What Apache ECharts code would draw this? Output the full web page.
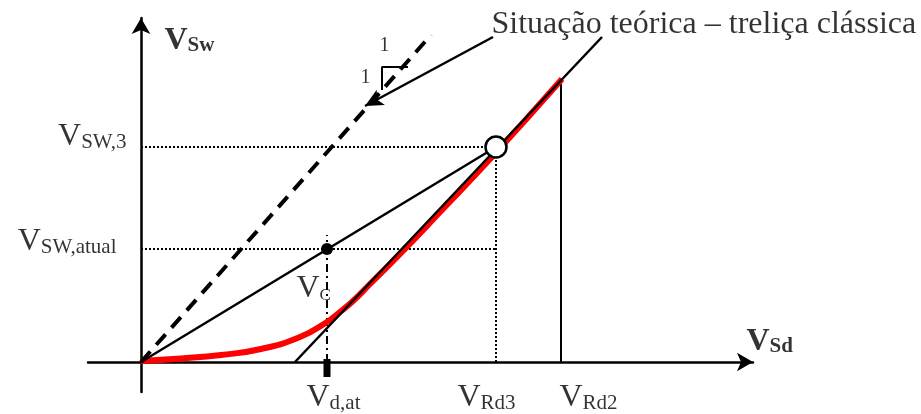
<!DOCTYPE html>
<html>
<head>
<meta charset="utf-8">
<script src="https://cdn.jsdelivr.net/npm/echarts@6/dist/echarts.min.js"></script>
<style>
html, body { margin: 0; padding: 0; background: #fff; }
#chart { width: 921px; height: 414px; }
</style>
</head>
<body>
<div id="chart"></div>
<script>
// Stirrup force V_Sw against design shear V_Sd (arbitrary units)
const xRange = [-5.3, 61.2];
const yRange = [-3.0, 34.4];

// marked abscissas: V_d,at, V_Rd3, V_Rd2
const xTickValues = [18.6, 35.5, 42.0];
const xTickLabels = [['V', 'd,at'], ['V', 'Rd3'], ['V', 'Rd2']];
// marked ordinates: V_Sw,atual, V_Sw,3
const yTickValues = [11.3, 21.5];
const yTickLabels = [['V', 'SW,atual'], ['V', 'SW,3']];

// actual behaviour (red curve)
const curveX = [0, 4.0, 8.0, 12.0, 15.9, 18.6, 19.9, 21.2, 22.9, 26.0, 30.0, 35.0, 42.1];
const curveY = [0.1, 0.35, 0.7, 1.3, 2.5, 4.0, 5.0, 6.1, 7.8, 10.9, 15.1, 20.4, 28.3];

// classical truss line and secant through the origin
const trussLine = [[15.4, 0], [46.1, 32.5]];
const secantEnd = [35.5, 21.5];
// 1:1 reference line and its slope triangle
const unitLine = [[0, 0], [29.0, 32.7]];
const slopeTriangle = [[24.1, 27.2], [24.1, 29.5], [26.7, 29.5]];
// callout from the caption to the 1:1 line
const callout = [[35.2, 32.5], [22.4, 25.6]];
const caption = 'Situação teórica – treliça clássica';
const vRd2Top = 28.3;
const vdAtGuideTop = 12.7;

const FONT = 'Liberation Serif';
const BLACK = '#000';

function seg(points, style, z) {
  return {
    type: 'line', data: points, showSymbol: false, symbol: 'none', silent: true,
    lineStyle: Object.assign({ color: BLACK, width: 2.5, opacity: 1 }, style),
    z: z || 3, animation: false
  };
}

function rich(bold) {
  const w = bold ? 'bold' : 'normal';
  return {
    v: { fontSize: 32, lineHeight: 32, fontFamily: FONT, fontWeight: w, color: BLACK, verticalAlign: 'bottom' },
    s: { fontSize: 21, lineHeight: 21, fontFamily: FONT, fontWeight: w, color: BLACK, verticalAlign: 'bottom' },
    c: { fontSize: 17, lineHeight: 17, fontFamily: FONT, color: BLACK, verticalAlign: 'bottom' },
    t: { fontSize: 32, lineHeight: 32, fontFamily: FONT, color: BLACK, verticalAlign: 'bottom' },
    n: { fontSize: 20, lineHeight: 20, fontFamily: FONT, color: BLACK, verticalAlign: 'bottom' }
  };
}

function note(value, text, align, offset, bold) {
  return {
    value: value,
    label: {
      show: true, position: [0, 0], align: align, verticalAlign: 'bottom',
      offset: offset, formatter: text, rich: rich(bold), color: BLACK
    }
  };
}

const notes = [
  note([xTickValues[0], 0], '{v|' + xTickLabels[0][0] + '}{s|' + xTickLabels[0][1] + '}', 'left', [-20, 52]),
  note([xTickValues[1], 0], '{v|' + xTickLabels[1][0] + '}{s|' + xTickLabels[1][1] + '}', 'left', [-38, 52]),
  note([xTickValues[2], 0], '{v|' + xTickLabels[2][0] + '}{s|' + xTickLabels[2][1] + '}', 'left', [-1, 52]),
  note([0, yTickValues[0]], '{v|' + yTickLabels[0][0] + '}{s|' + yTickLabels[0][1] + '}', 'right', [-24, 9]),
  note([0, yTickValues[1]], '{v|' + yTickLabels[1][0] + '}{s|' + yTickLabels[1][1] + '}', 'right', [-14, 6]),
  note([xTickValues[0], yTickValues[0]], '{v|V}{c|C}', 'left', [-30, 56]),
  note([0, yRange[1]], '{v|V}{s|Sw}', 'left', [24, 39], true),
  note([xRange[1], 0], '{v|V}{s|Sd}', 'left', [-6, -4], true),
  note(callout[0], '{t|' + caption + '}', 'left', [-1, 4]),
  note(slopeTriangle[1], '{n|1}', 'center', [3, -11]),
  note(slopeTriangle[1], '{n|1}', 'right', [-11, 21])
];

const chart = echarts.init(document.getElementById('chart'), null, { renderer: 'canvas' });

chart.setOption({
  animation: false,
  backgroundColor: '#fff',
  grid: { left: 88, right: 168, top: 18, bottom: 22, containLabel: false },
  xAxis: {
    type: 'value', min: xRange[0], max: xRange[1],
    axisLine: { onZero: true, symbol: ['none', 'arrow'], symbolSize: [14, 16],
      lineStyle: { color: BLACK, width: 2.5 } },
    axisTick: { show: false }, axisLabel: { show: false }, splitLine: { show: false }
  },
  yAxis: {
    type: 'value', min: yRange[0], max: yRange[1],
    axisLine: { onZero: true, symbol: ['none', 'arrow'], symbolSize: [14, 16],
      lineStyle: { color: BLACK, width: 2.5 } },
    axisTick: { show: false }, axisLabel: { show: false }, splitLine: { show: false }
  },
  series: [
    // guide lines
    seg([[0, yTickValues[1]], [xTickValues[1], yTickValues[1]]], { width: 2, type: [2, 2] }, 1),
    seg([[xTickValues[1], 0], [xTickValues[1], yTickValues[1]]], { width: 2, type: [2, 2] }, 1),
    seg([[0, yTickValues[0]], [xTickValues[1], yTickValues[0]]], { width: 2, type: [2, 2] }, 1),
    seg([[xTickValues[0], 0], [xTickValues[0], vdAtGuideTop]], { width: 2, type: [8, 4, 2, 4] }, 1),
    seg([[xTickValues[0], 0.3], [xTickValues[0], -1.5]], { width: 7 }, 4),
    seg([[xTickValues[2], 0], [xTickValues[2], vRd2Top]], { width: 2 }, 1),
    // actual response
    {
      type: 'line', data: curveX.map((x, i) => [x, curveY[i]]), smooth: 0.5,
      showSymbol: false, symbol: 'none', silent: true, z: 2,
      lineStyle: { color: '#ff0000', width: 6, opacity: 1 }
    },
    seg(trussLine, { width: 2.5 }, 3),
    seg([[0, 0], secantEnd], { width: 2.5 }, 3),
    seg(unitLine, { width: 4, type: [14, 9] }, 3),
    seg(slopeTriangle, { width: 2 }, 3),
    {
      type: 'line', data: [], silent: true,
      markLine: {
        silent: true, animation: false, symbol: ['none', 'arrow'], symbolSize: [13, 18],
        label: { show: false },
        lineStyle: { color: BLACK, width: 2.5, type: 'solid', opacity: 1 },
        data: [[{ coord: callout[0] }, { coord: callout[1] }]]
      }
    },
    {
      type: 'scatter', silent: true, z: 6,
      data: [
        { value: secantEnd, symbolSize: 21, itemStyle: { color: '#fff', borderColor: BLACK, borderWidth: 2.5, opacity: 1 } },
        { value: [xTickValues[0], yTickValues[0]], symbolSize: 12, itemStyle: { color: BLACK, opacity: 1 } }
      ]
    },
    {
      type: 'scatter', silent: true, z: 7, symbolSize: 1,
      itemStyle: { color: 'rgba(0,0,0,0)' },
      data: notes
    }
  ]
});
</script>
</body>
</html>
